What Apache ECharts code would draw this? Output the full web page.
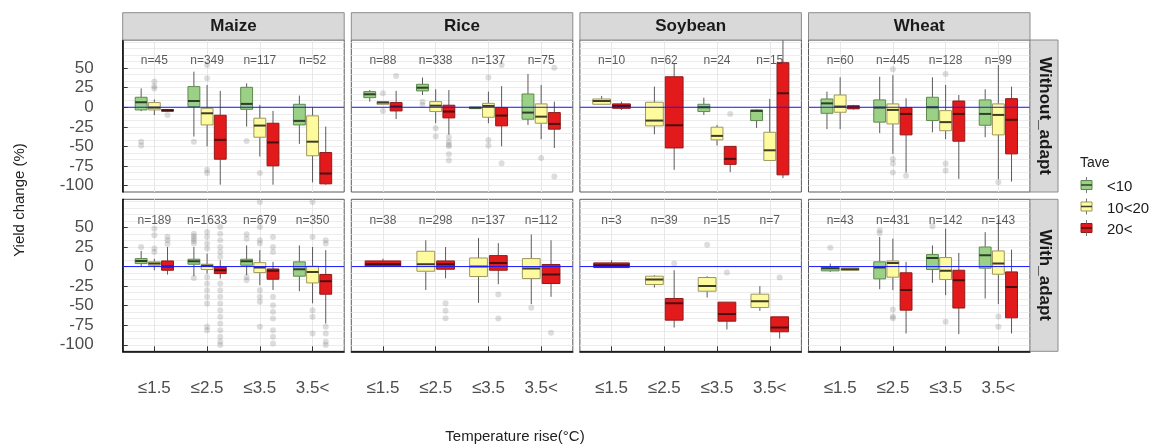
<!DOCTYPE html>
<html><head><meta charset="utf-8">
<script src="https://cdn.jsdelivr.net/npm/echarts@6/dist/echarts.min.js"></script>
<style>html,body{margin:0;padding:0;background:#fff}#c{width:1152px;height:445px}</style>
</head><body><div id="c"></div>
<script>
// ---------------- data ----------------
const crops = ['Maize', 'Rice', 'Soybean', 'Wheat'];
const adaptRows = ['Without_adapt', 'With_adapt'];
const taveGroups = ['<10', '10<20', '20<'];
const tempLabels = ['≤1.5', '≤2.5', '≤3.5', '3.5<'];
const yTickValues = [-100, -75, -50, -25, 0, 25, 50];

// box stats per temperature class: [lowerWhisker, q1, median, q3, upperWhisker] (null = group absent)
const maizeWithoutLt10 = [[-5, -3.4, 6.4, 12.8, 24], [-37.5, 0.9, 8, 26.4, 45.5], [-24.7, -2.6, 4.3, 25.5, 30.6], [-46.8, -22.6, -17.4, 3.8, 15]];
const maizeWithout10to20 = [[-10, -3.4, -0.4, 6, 10], [-50, -22.6, -7.7, -1.3, 28.5], [-63, -38.3, -23.4, -14, 3], [-96, -62, -44, -11, 0]];
const maizeWithoutGt20 = [[-5.5, -5, -4, -3, -2.5], [-99, -66.4, -41.7, -10.2, 21], [-99, -74.9, -45, -20.4, -4.7], [-99, -97.9, -84.7, -57.9, -24.7]];

const riceWithoutLt10 = [[7.2, 12.3, 16.6, 20, 22], [15.7, 20.9, 25, 29.4, 37.9], [-1.7, -1.7, -0.5, 0, 0], [-22.6, -15.3, -6.8, 17, 42.5]];
const riceWithout10to20 = [[3.8, 3.8, 6, 7.2, 7.2], [-20.4, -5.5, 2, 7.2, 23], [-20.4, -12.8, 1.7, 5, 20], [-40.8, -20.4, -12, 4.3, 28.5]];
const riceWithoutGt20 = [[-15, -4.7, 0.9, 6, 21], [-35, -13.6, -5.5, 2.6, 22], [-50, -23.8, -10.6, -0.4, 27], [-52, -28, -21.3, -6.8, 7.2]];

const soyWithoutLt10 = [null, null, [-9.8, -5.5, 0, 3.8, 12.3], [-26.4, -17, -4.7, -3.4, -2.6]];
const soyWithout10to20 = [[3.8, 3.8, 8, 10.6, 14.5], [-34.5, -23.8, -17, 6.4, 26.4], [-49, -41.7, -36.6, -25.5, -22.6], [-68, -68, -55, -32, 10.6]];
const soyWithoutGt20 = [[-3.4, -1.3, 1.7, 4.3, 7.2], [-80, -52, -23, 39, 56], [-83, -73, -66, -50, -50], [-90.6, -86.4, 17.9, 57, 90]];

const wheatWithoutLt10 = [[-28, -7.7, 5, 10.6, 20], [-33, -19, -0.4, 9.4, 39], [-32, -17, 0, 12.8, 38.3], [-38.3, -23, -8.5, 9.4, 23]];
const wheatWithout10to20 = [[-28, -6.4, 0.9, 15.7, 38.3], [-59.6, -21.3, -3.4, 4.3, 41], [-40.8, -30, -19, -4.3, 28.5], [-92, -35.3, -9.8, 4.3, 54]];
const wheatWithoutGt20 = [[-3, -2, 0, 2, 3], [-83.4, -35.3, -8.5, -0.4, 11.5], [-91.5, -43.4, -8.5, 8, 15.7], [-95, -59.6, -16, 11, 26.4]];

const maizeWithLt10 = [[0.4, 3.8, 7.2, 10.2, 20], [-12.3, 3, 6.8, 9.4, 25], [-11, 1.7, 6.8, 9.4, 27], [-31.5, -12.3, -3.4, 6, 27]];
const maizeWith10to20 = [[-4.7, 1.7, 3.8, 6, 10], [-9, -3.8, 0.9, 3, 16.6], [-23.8, -7.7, -1.3, 5, 21], [-47, -20.9, -6.8, 0.4, 25]];
const maizeWithGt20 = [[-10.2, -4.7, 0, 7.2, 25], [-15.3, -9, -4.7, -0.4, 8], [-30, -16.2, -5.5, -3, 6], [-72.8, -35.3, -18.7, -10.2, 21]];

const riceWithLt10 = [null, null, null, null];
const riceWith10to20 = [null, [-30, -6, 3, 19.6, 33.6], [-46.4, -12.8, 0, 11, 36.6], [-48, -15.3, -2.6, 10.2, 41]];
const riceWithGt20 = [[0.4, 0.4, 3, 7.2, 10], [-15, -3.4, 3, 7.2, 25], [-22.6, -4.7, 4.7, 14, 30], [-38.7, -21.7, -10.2, 2.6, 33.6]];

const soyWithLt10 = [null, null, null, null];
const soyWith10to20 = [null, [-26.8, -23, -16.6, -12.3, -11], [-39.6, -31.5, -25, -14, -12.3], [-56.6, -52.3, -44.3, -35.3, -25]];
const soyWithGt20 = [[-1.3, -1.3, 1.7, 4.7, 8], [-78, -68.5, -47, -40.8, -4.7], [-80.4, -69.8, -60.8, -45.5, -45.5], [-92, -83.4, -77.9, -64.3, -64.3]];

const wheatWithLt10 = [[-6.8, -5.5, -2, -0.4, 3.8], [-29, -15.7, -1.3, 6, 37.9], [-20.9, -3.8, 11, 15.3, 27], [-40.8, -2, 14.5, 25, 44]];
const wheatWith10to20 = [[-4.7, -4.7, -3.4, -1.7, -1.7], [-30, -13.6, 4.7, 7.2, 35.7], [-36.6, -16.6, -5.5, 11.5, 48.5], [-48, -9.8, 3.8, 20, 61]];
const wheatWithGt20 = [null, [-85.5, -55.7, -30, -8, 6], [-86.4, -53, -17.4, -4.7, 17.4], [-85.5, -65.5, -26, -6.8, 21.7]];

// outliers: [temperature class index, tave group index, value]
const maizeWithoutOut = [[0,0,-44],[0,0,-49],[0,1,33],[0,1,27],[0,1,24],[0,2,-10],[1,0,-44],[1,1,54],[1,1,37],[1,1,-80],[1,1,-84],[2,0,-43],[2,1,-84]];
const riceWithoutOut = [[0,1,17.9],[0,1,-4.7],[0,2,40],[1,0,7.2],[1,0,3],[1,1,-26.8],[1,1,-37.5],[1,2,-38],[1,2,-44],[1,2,-48],[1,2,-50],[1,2,-60],[1,2,-68],[2,1,38],[2,1,-41.7],[2,1,-49],[2,2,-71.5],[2,2,54],[3,1,-65],[3,2,50.6],[3,2,-88.5]];
const soyWithoutOut = [[2,2,-8.5]];
const wheatWithoutOut = [[1,1,48.5],[1,1,-66],[1,1,-72],[1,1,-83.4],[1,2,-87.7],[2,1,42.5],[2,1,-72],[2,1,-80.9],[3,1,-96]];
const maizeWithOut = [
  [0,0,25],[0,1,48.5],[0,1,40],[0,1,23],[0,1,18.7],[0,2,38],[0,2,33.6],[0,2,29],
  [1,0,42],[1,0,38.7],[1,0,35.7],[1,0,32.8],[1,0,29.4],[1,0,-14.5],
  [1,1,44.3],[1,1,37.9],[1,1,29.4],[1,1,23],[1,1,-13.2],[1,1,-21.7],[1,1,-30.2],[1,1,-38.7],[1,1,-47.2],[1,1,-77],[1,1,-81.3],
  [1,2,50.6],[1,2,42.1],[1,2,33.6],[1,2,25.1],[1,2,18.7],[1,2,12.3],[1,2,-21.7],[1,2,-30.2],[1,2,-38.7],[1,2,-47.2],[1,2,-55.7],[1,2,-64.3],[1,2,-72.8],[1,2,-81.3],[1,2,-89.8],[1,2,-96.2],[1,2,-100.4],
  [2,0,41.3],[2,0,35.7],[2,0,-13.2],[2,0,-17.4],
  [2,1,82.6],[2,1,50.6],[2,1,33.6],[2,1,29.4],[2,1,-30.2],[2,1,-38.7],[2,1,-45.1],[2,1,-77],
  [2,2,37.9],[2,2,25.1],[2,2,18.7],[2,2,-38.7],[2,2,-49.4],[2,2,-57.9],[2,2,-66.4],[2,2,-81.3],[2,2,-89.8],[2,2,-98.3],
  [3,1,82.6],[3,1,37.9],[3,1,-55.7],[3,1,-64.3],[3,1,-85.5],
  [3,2,33.6],[3,2,29.4],[3,2,-77],[3,2,-85.5],[3,2,-96.2],[3,2,-100.4]
];
const riceWithOut = [[1,2,-47],[1,2,-56.6],[1,2,-66],[2,2,-35.7],[2,2,-66.4],[3,1,-52.8],[3,2,-84.7]];
const soyWithOut = [[1,2,3.8],[2,1,28],[2,2,-7.7],[3,2,-14]];
const wheatWithOut = [[0,0,24],[1,0,46.4],[1,0,43],[1,1,-55],[1,1,-64],[1,1,-66],[2,0,51.5],[2,1,-70.6],[3,1,-64],[3,1,-77]];

// sample sizes
const maizeWithoutN = [45, 349, 117, 52];
const riceWithoutN = [88, 338, 137, 75];
const soyWithoutN = [10, 62, 24, 15];
const wheatWithoutN = [60, 445, 128, 99];
const maizeWithN = [189, 1633, 679, 350];
const riceWithN = [38, 298, 137, 112];
const soyWithN = [3, 39, 15, 7];
const wheatWithN = [43, 431, 142, 143];

const N_LABEL_Y = 59;
const ZERO_LINE = [[0.4, 0], [4.6, 0]];

// ---------------- assembly ----------------
const facetBoxes = [
  [maizeWithoutLt10, maizeWithout10to20, maizeWithoutGt20],
  [riceWithoutLt10, riceWithout10to20, riceWithoutGt20],
  [soyWithoutLt10, soyWithout10to20, soyWithoutGt20],
  [wheatWithoutLt10, wheatWithout10to20, wheatWithoutGt20],
  [maizeWithLt10, maizeWith10to20, maizeWithGt20],
  [riceWithLt10, riceWith10to20, riceWithGt20],
  [soyWithLt10, soyWith10to20, soyWithGt20],
  [wheatWithLt10, wheatWith10to20, wheatWithGt20]
];
const facetOut = [maizeWithoutOut, riceWithoutOut, soyWithoutOut, wheatWithoutOut, maizeWithOut, riceWithOut, soyWithOut, wheatWithOut];
const facetN = [maizeWithoutN, riceWithoutN, soyWithoutN, wheatWithoutN, maizeWithN, riceWithN, soyWithN, wheatWithN];

const FONT = "'Liberation Sans', Arial, sans-serif";
const boxFill = ['#9bd186', '#fdfb9e', '#e31a1c'];
const boxStroke = ['#5d8a4c', '#9d9660', '#8e1b1b'];
const medianColor = ['#2f3f2a', '#3f3d24', '#4a1010'];
const DODGE = 0.75, BOX_FRAC = 0.9;
const Y_MIN = -108.3333, Y_MAX = 86;
const gridLineVals = [];
for (let k = -12; k <= 10; k++) gridLineVals.push(k * 25 / 3);

const L0 = 122.7, DX = 228.6, W = 221.5, T0 = 40, DY = 159.3, H = 152;

function slotInfo(groups, c, g) {
  const present = [];
  groups.forEach((arr, i) => { if (arr[c]) present.push(i); });
  return { slot: present.indexOf(g), n: present.length };
}
function slotX(c, slot, n) {
  const w = DODGE / n;
  return (c + 1) + (slot - (n - 1) / 2) * w;
}

function makeRender(g) {
  return function (params, api) {
    const cat = api.value(0), lo = api.value(1), q1 = api.value(2), med = api.value(3), q3 = api.value(4), hi = api.value(5);
    const slot = api.value(6), n = api.value(7);
    const slotW = DODGE / n;
    const cx = cat + (slot - (n - 1) / 2) * slotW;
    const hw = slotW * BOX_FRAC / 2;
    const a = api.coord([cx - hw, q3]);
    const b = api.coord([cx + hw, q1]);
    const m1 = api.coord([cx - hw, med]), m2 = api.coord([cx + hw, med]);
    const top = api.coord([cx, hi]), bot = api.coord([cx, lo]);
    return {
      type: 'group',
      children: [
        { type: 'line', shape: { x1: top[0], y1: top[1], x2: top[0], y2: a[1] }, style: { stroke: '#5a5a5a', lineWidth: 1 } },
        { type: 'line', shape: { x1: bot[0], y1: bot[1], x2: bot[0], y2: b[1] }, style: { stroke: '#5a5a5a', lineWidth: 1 } },
        { type: 'rect', shape: { x: a[0], y: a[1], width: b[0] - a[0], height: Math.max(b[1] - a[1], 0.5) }, style: { fill: boxFill[g], stroke: boxStroke[g], lineWidth: 1 } },
        { type: 'line', shape: { x1: m1[0], y1: m1[1], x2: m2[0], y2: m2[1] }, style: { stroke: medianColor[g], lineWidth: 2 } }
      ]
    };
  };
}

const grids = [], xAxes = [], yAxes = [], series = [], graphics = [];
for (let f = 0; f < 8; f++) {
  const row = Math.floor(f / 4), col = f % 4;
  const left = L0 + col * DX, top = T0 + row * DY;
  grids.push({ left: left, top: top, width: W, height: H, show: true, borderColor: '#5a5a5a', borderWidth: 1, backgroundColor: '#fff' });
  xAxes.push({
    gridIndex: f, type: 'value', min: 0.4, max: 4.6, position: 'bottom',
    axisLine: { show: row === 1, onZero: false, lineStyle: { color: '#000', width: 1.5 } },
    axisTick: { show: row === 1, inside: true, length: 5, customValues: [1, 2, 3, 4], lineStyle: { color: '#333' } },
    axisLabel: { show: row === 1, customValues: [1, 2, 3, 4], formatter: v => tempLabels[Math.round(v) - 1], margin: 29, fontSize: 17, color: '#4d4d4d', fontFamily: FONT },
    splitLine: { show: true, lineStyle: { color: '#e8e8e8', width: 1 } }
  });
  yAxes.push({
    gridIndex: f, type: 'value', min: Y_MIN, max: Y_MAX, position: 'left',
    axisLine: { show: col === 0, onZero: false, lineStyle: { color: '#000', width: 1.5 } },
    axisTick: { show: false, customValues: gridLineVals },
    axisLabel: { show: col === 0, customValues: yTickValues, margin: 29, fontSize: 17, color: '#4d4d4d', fontFamily: FONT },
    splitLine: { show: true, lineStyle: { color: '#ececec', width: 1 } }
  });
}
[0, 4].forEach(f => {
  yAxes.push({
    gridIndex: f, type: 'value', min: Y_MIN, max: Y_MAX, position: 'left',
    axisLine: { show: false, onZero: false },
    axisTick: { show: true, inside: true, length: 5, customValues: yTickValues, lineStyle: { color: '#333' } },
    axisLabel: { show: false }, splitLine: { show: false }
  });
});

for (let f = 0; f < 8; f++) {
  const groups = facetBoxes[f];
  const outData = facetOut[f].map(o => {
    const s = slotInfo(groups, o[0], o[1]);
    return [slotX(o[0], s.slot, s.n), o[2]];
  });
  series.push({
    type: 'scatter', xAxisIndex: f, yAxisIndex: f, data: outData, symbolSize: 6, silent: true,
    itemStyle: { color: 'rgba(105,105,105,0.28)' }, z: 1
  });
  for (let g = 0; g < 3; g++) {
    const items = [];
    groups[g].forEach((st, c) => {
      if (!st) return;
      const s = slotInfo(groups, c, g);
      items.push([c + 1, st[0], st[1], st[2], st[3], st[4], s.slot, s.n]);
    });
    series.push({
      type: 'custom', name: taveGroups[g], xAxisIndex: f, yAxisIndex: f, clip: true,
      renderItem: makeRender(g), data: items, encode: { x: 0, y: [1, 2, 3, 4, 5] },
      itemStyle: { color: boxFill[g], borderColor: boxStroke[g], borderWidth: 1 }, z: 2
    });
  }
  // zero reference line
  series.push({
    type: 'line', xAxisIndex: f, yAxisIndex: f, data: ZERO_LINE, silent: true, showSymbol: false, symbol: 'none',
    lineStyle: { color: '#1818ff', width: 1 }, z: 3
  });
  series.push({
    type: 'scatter', xAxisIndex: f, yAxisIndex: f, silent: true, symbolSize: 1,
    itemStyle: { color: 'rgba(0,0,0,0)' },
    data: facetN[f].map((n, c) => [c + 1, N_LABEL_Y, n]),
    label: { show: true, position: 'inside', formatter: p => 'n=' + p.value[2], fontSize: 12, color: '#333', fontFamily: FONT },
    z: 4
  });
}

crops.forEach((name, col) => {
  const left = L0 + col * DX;
  graphics.push({ type: 'rect', shape: { x: left, y: 12.7, width: W, height: 27.3 }, style: { fill: '#d9d9d9', stroke: '#8c8c8c', lineWidth: 1 }, z: 50 });
  graphics.push({ type: 'text', x: left + W / 2, y: 26.5, style: { text: name, align: 'center', verticalAlign: 'middle', font: 'bold 17px ' + FONT, fill: '#1a1a1a' }, z: 51 });
});
adaptRows.forEach((name, row) => {
  const top = T0 + row * DY;
  const x0 = L0 + 3 * DX + W;
  graphics.push({ type: 'rect', shape: { x: x0, y: top, width: 28, height: H }, style: { fill: '#d9d9d9', stroke: '#8c8c8c', lineWidth: 1 }, z: 50 });
  graphics.push({ type: 'text', x: x0 + 14.5, y: top + H / 2, rotation: -Math.PI / 2, style: { text: name, align: 'center', verticalAlign: 'middle', font: 'bold 17px ' + FONT, fill: '#1a1a1a' }, z: 51 });
});
graphics.push({ type: 'text', x: 20, y: 200, rotation: Math.PI / 2, style: { text: 'Yield change (%)', align: 'center', verticalAlign: 'middle', font: '15px ' + FONT, fill: '#222' }, z: 51 });
graphics.push({ type: 'text', x: 515, y: 437, style: { text: 'Temperature rise(°C)', align: 'center', verticalAlign: 'middle', font: '15px ' + FONT, fill: '#222' }, z: 51 });
graphics.push({ type: 'text', x: 1080, y: 163, style: { text: 'Tave', align: 'left', verticalAlign: 'middle', font: '14px ' + FONT, fill: '#222' }, z: 51 });
const LEG_Y0 = 185, LEG_DY = 21.5;
taveGroups.forEach((t, i) => {
  const cy = LEG_Y0 + i * LEG_DY;
  graphics.push({ type: 'rect', shape: { x: 1081, y: cy - 4.5, width: 11, height: 9 }, style: { fill: boxFill[i], stroke: boxStroke[i], lineWidth: 1 }, z: 60 });
  graphics.push({ type: 'line', shape: { x1: 1081, y1: cy, x2: 1092, y2: cy }, style: { stroke: medianColor[i], lineWidth: 1.5 }, z: 61 });
  graphics.push({ type: 'line', shape: { x1: 1086.5, y1: cy - 8, x2: 1086.5, y2: cy - 4.5 }, style: { stroke: '#777', lineWidth: 1 }, z: 60 });
  graphics.push({ type: 'line', shape: { x1: 1086.5, y1: cy + 4.5, x2: 1086.5, y2: cy + 8 }, style: { stroke: '#777', lineWidth: 1 }, z: 60 });
});

const chart = echarts.init(document.getElementById('c'), null, { renderer: 'canvas' });
chart.setOption({
  animation: false,
  backgroundColor: '#fff',
  textStyle: { fontFamily: FONT },
  grid: grids, xAxis: xAxes, yAxis: yAxes, series: series,
  legend: {
    orient: 'vertical', left: 1081, top: LEG_Y0 - 11, itemWidth: 11, itemHeight: 9, itemGap: 5.5,
    icon: 'rect', data: taveGroups, selectedMode: false,
    itemStyle: { opacity: 0 },
    textStyle: { fontSize: 15, color: '#1a1a1a', lineHeight: 16, padding: [0, 0, 0, 4], fontFamily: FONT }
  },
  graphic: { elements: graphics }
});
</script>
</body></html>
